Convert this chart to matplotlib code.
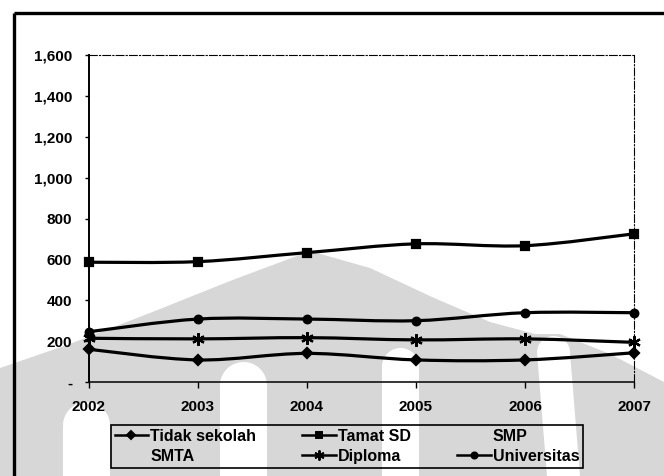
import numpy as np
import matplotlib
matplotlib.use("Agg")
import matplotlib.pyplot as plt
from matplotlib.path import Path
from matplotlib.patches import PathPatch, Polygon
from matplotlib.lines import Line2D

plt.rcParams['font.family'] = ['Liberation Sans', 'DejaVu Sans']
plt.rcParams['font.weight'] = 'bold'

# ---- data -------------------------------------------------------------
years = [2002, 2003, 2004, 2005, 2006, 2007]
year_labels = ["2002", "2003", "2004", "2005", "2006", "2007"]

tidak_sekolah = [160, 108, 140, 108, 108, 143]
tamat_sd = [586, 589, 633, 676, 667, 725]
diploma = [214, 211, 217, 206, 211, 194]
universitas = [246, 308, 308, 300, 339, 339]

y_ticks = [0, 200, 400, 600, 800, 1000, 1200, 1400, 1600]
y_tick_labels = ["-", "200", "400", "600", "800", "1,000", "1,200", "1,400", "1,600"]

legend_order = ["Tidak sekolah", "SMTA", "Tamat SD", "Diploma", "SMP", "Universitas"]

# ---- figure -----------------------------------------------------------
W, H = 664, 476
fig = plt.figure(figsize=(W / 100, H / 100), dpi=100)
fig.patch.set_facecolor("white")

# background layer in pixel units: faint logo and the outer frame
bg = fig.add_axes([0, 0, 1, 1], zorder=0)
bg.set_xlim(0, W)
bg.set_ylim(H, 0)
bg.axis("off")

grey = "#d7d7d7"
tent = [(0, 368), (67, 345), (150, 313), (230, 281), (310, 251), (370, 268),
        (432, 297), (490, 322), (535, 334), (560, 334), (610, 354), (664, 382),
        (664, H), (0, H)]
bg.add_patch(Polygon(tent, closed=True, facecolor=grey, edgecolor="none"))


def slot(x0, x1, y_top, skew=0.0):
    """Rounded-top vertical opening running down to the bottom edge."""
    r = (x1 - x0) / 2
    cx = x0 + r
    t = np.linspace(np.pi, 0, 30)
    cap = [(cx + r * np.cos(a), y_top + r - r * np.sin(a)) for a in t]
    return [(x0 + skew, H)] + cap + [(x1 + skew, H)]


for x0, x1, yt, sk in [(63, 110, 402, 0), (220, 267, 362, 0),
                       (382, 419, 348, 0), (537, 570, 336, 10)]:
    bg.add_patch(Polygon(slot(x0, x1, yt, sk), closed=True, facecolor="white",
                         edgecolor="none"))

bg.plot([14, W], [13, 13], color="black", lw=2.4, solid_capstyle="butt")
bg.plot([14, 14], [13, H], color="black", lw=2.4, solid_capstyle="butt")

# ---- main axes --------------------------------------------------------
left, right, top, bottom = 89, 634, 55, 382
ax = fig.add_axes([left / W, 1 - bottom / H, (right - left) / W, (bottom - top) / H],
                  zorder=2)
ax.set_facecolor("none")
ax.set_xlim(years[0], years[-1])
ax.set_ylim(0, 1600)


def smooth_path(xs, ys):
    pts = np.column_stack([xs, ys]).astype(float)
    n = len(pts)
    verts = [pts[0]]
    codes = [Path.MOVETO]
    for i in range(n - 1):
        p0 = pts[max(i - 1, 0)]
        p1 = pts[i]
        p2 = pts[i + 1]
        p3 = pts[min(i + 2, n - 1)]
        verts += [p1 + (p2 - p0) / 6, p2 - (p3 - p1) / 6, p2]
        codes += [Path.CURVE4] * 3
    return Path(verts, codes)


asterisk = (6, 2, 0)
series = [
    ("Tidak sekolah", tidak_sekolah, "D", 5.0),
    ("Tamat SD", tamat_sd, "s", 6.0),
    ("Diploma", diploma, asterisk, 9.0),
    ("Universitas", universitas, "o", 5.5),
]

handles = {}
for name, vals, mk, ms in series:
    ax.add_patch(PathPatch(smooth_path(years, vals), facecolor="none",
                           edgecolor="black", lw=2.3, capstyle="round",
                           joinstyle="round", clip_on=False))
    ax.plot(years, vals, linestyle="none", marker=mk, ms=ms, color="black",
            mec="black", mew=1.6, clip_on=False)
    handles[name] = Line2D([], [], color="black", lw=1.8, marker=mk,
                           ms=ms * 0.8, mew=1.4)
for name in ["SMP", "SMTA"]:
    handles[name] = Line2D([], [], linestyle="none", marker=None)

# spines
ax.spines["left"].set_linewidth(1.4)
ax.spines["bottom"].set_linewidth(1.1)
for s in ["top", "right"]:
    ax.spines[s].set_linewidth(0.8)
    ax.spines[s].set_linestyle((0, (7, 2, 1, 2)))

ax.set_yticks(y_ticks)
ax.set_yticklabels(y_tick_labels)
ax.set_xticks(years)
ax.set_xticklabels(year_labels)
ax.tick_params(axis="y", direction="out", length=3, width=1, pad=9,
               labelsize=11)
ax.tick_params(axis="x", direction="out", length=4, width=1, pad=9,
               labelsize=11)
for lbl in ax.get_xticklabels() + ax.get_yticklabels():
    lbl.set_fontweight("bold")

leg = fig.legend([handles[n] for n in legend_order], legend_order,
                 loc="upper center", bbox_to_anchor=(347 / W, 1 - 425 / H),
                 ncol=3, frameon=True, fancybox=False, framealpha=1,
                 edgecolor="black", facecolor="none",
                 prop={"family": "Liberation Sans", "weight": "bold", "size": 11.5},
                 handlelength=2.1, handletextpad=0.12, columnspacing=2.9,
                 borderpad=0.25, labelspacing=0.3, borderaxespad=0)
leg.get_frame().set_linewidth(1.2)
leg.set_zorder(3)

fig.savefig("out.png", dpi=100, facecolor="white")
